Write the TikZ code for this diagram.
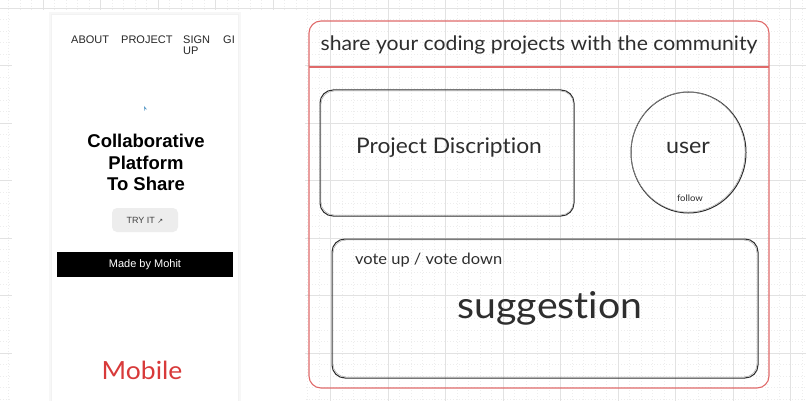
\documentclass[tikz,border=0pt]{standalone}
\usepackage{fontspec}
\setmainfont{Liberation Sans}
\newfontfamily\hand[FakeStretch=1.06, Ligatures={NoCommon}]{Lato}
\definecolor{gridmajor}{HTML}{E2E2E2}
\definecolor{gridminor}{HTML}{EDEDED}
\definecolor{frame}{HTML}{E06A6A}
\definecolor{ink}{HTML}{2E2E2E}
\definecolor{mobred}{HTML}{D83A3A}
\definecolor{btn}{HTML}{EDEDED}
\definecolor{iconblue}{HTML}{5A9BC8}
\tikzset{
  minorline/.style={gridminor, line width=0.6pt, dash pattern=on 1.2pt off 1.8pt},
  majorline/.style={gridmajor, line width=0.7pt},
  sketchbox/.style={draw=ink, line width=1pt, rounded corners=13pt},
  sketchtrace/.style={draw=ink!45, line width=0.4pt, rounded corners=13pt},
  navtext/.style={font=\fontsize{11}{12}\selectfont, text=black!85, inner sep=0pt, anchor=north west, align=left},
  handtext/.style={font=\hand, text=ink, inner sep=0pt},
}
\begin{document}
\begin{tikzpicture}[x=1pt,y=-1pt]
\useasboundingbox (0,0) rectangle (806,401);
\fill[white] (0,0) rectangle (806,401);
% grid
\foreach \i in {0,...,70} {\draw[minorline] ({8.5+11.5*\i},0) -- ({8.5+11.5*\i},401);}
\foreach \j in {0,...,35} {\draw[minorline] (0,{8+11.5*\j}) -- (806,{8+11.5*\j});}
\foreach \i in {0,...,13} {\draw[majorline] ({43+57.5*\i},0) -- ({43+57.5*\i},401);}
\foreach \j in {0,...,6} {\draw[majorline] (0,{8+57.5*\j}) -- (806,{8+57.5*\j});}
% white area around the mobile preview
\fill[white] (12,10) rectangle (305,401);
\fill[black!3] (49,12) rectangle (241,401);
\fill[black!5] (51,14) rectangle (239,401);
\fill[white] (52,15) rectangle (238,401);
% mobile preview
\node[navtext] (about) at (71,35.5) {ABOUT};
\node[navtext] (project) at (121,35.5) {PROJECT};
\node[navtext] (signup) at (183,35.5) {SIGN\\[-1pt]UP};
\begin{scope}
\clip (52,15) rectangle (238,80);
\node[navtext] (gi) at (223,35.5) {GI};
\end{scope}
\fill[iconblue] (144,106) -- (147,109.5) -- (145,109) -- (144.5,111) -- cycle;
\node[font=\bfseries\fontsize{18.5}{21.5}\selectfont, align=center, inner sep=0pt] (headline) at (146,162.5) {Collaborative\\Platform\\To Share};
\node[fill=btn, rounded corners=5pt, minimum width=66pt, minimum height=24pt, inner sep=0pt,
      font=\fontsize{9}{10}\selectfont, text=black!75] (try) at (145,220) {TRY IT \fontspec{DejaVu Sans}\fontsize{7}{8}\selectfont ↗};
\node[fill=black, minimum width=176pt, minimum height=25pt, inner sep=0pt,
      font=\fontsize{11}{12}\selectfont, text=white] (made) at (145,264.5) {Made by Mohit};
\node[handtext, text=mobred, font=\hand\fontsize{25}{26}\selectfont] (mobile) at (142,370) {Mobile};
% desktop frame
\draw[frame, line width=1.1pt, rounded corners=12pt] (309,21) rectangle (769,388);
\coordinate (hl) at (309,67);
\coordinate (hr) at (769,67);
\draw[frame, line width=1.1pt] (hl) -- (hr);
\node[handtext, font=\hand\fontsize{20}{21}\selectfont] (title) at (539,45) {share your coding projects with the community};
% project description
\draw[sketchbox] (320,90) rectangle (574,216);
\draw[sketchtrace] (321,91) rectangle (573.5,215);
\node[handtext, font=\hand\fontsize{21.5}{22}\selectfont] (proj) at (449,148) {Project Discription};
% user circle
\draw[ink, line width=1pt] (688.5,152.5) ellipse (57.5pt and 60.5pt);
\draw[ink!45, line width=0.4pt] (688,152) ellipse (57pt and 60pt);
\node[handtext, font=\hand\fontsize{22}{23}\selectfont] (user) at (688,148) {user};
\node[handtext, font=\hand\fontsize{9}{10}\selectfont] (follow) at (690,198) {follow};
% suggestion box
\draw[sketchbox] (332,239) rectangle (758,378);
\draw[sketchtrace] (333,240) rectangle (757,377);
\node[handtext, anchor=west, font=\hand\fontsize{15.5}{16}\selectfont] (vote) at (355,260) {vote up / vote down};
\node[handtext, font=\hand\fontsize{37}{38}\selectfont] (sugg) at (550,308) {suggestion};
\end{tikzpicture}
\end{document}
